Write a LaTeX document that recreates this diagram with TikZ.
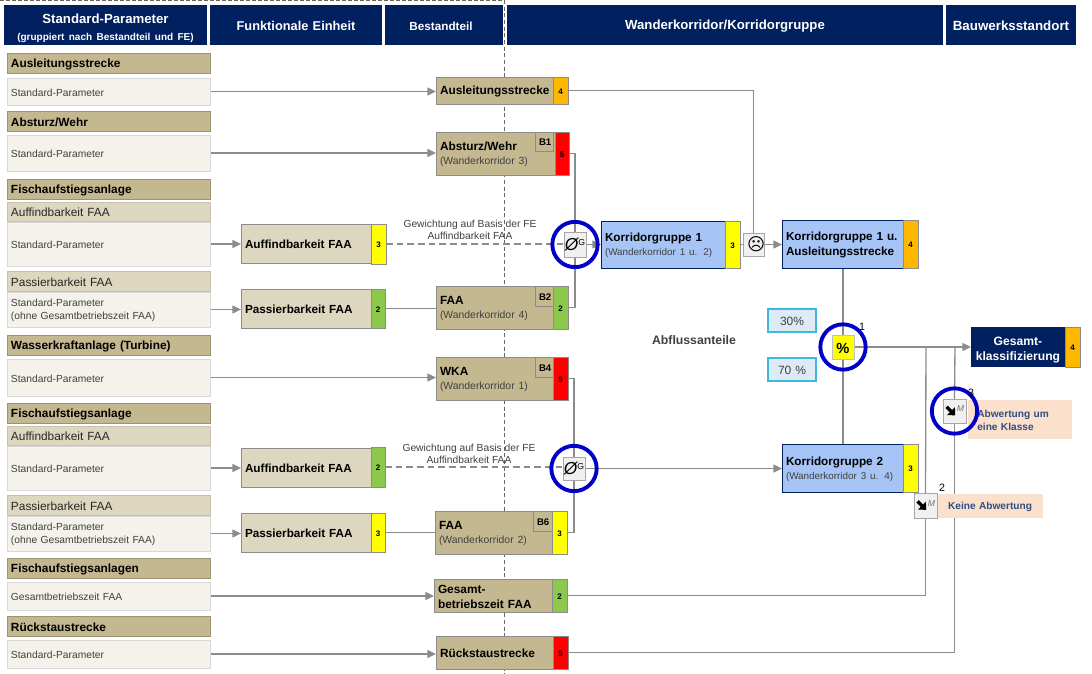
\documentclass[tikz,border=0pt]{standalone}
\usepackage{fontspec}
\setmainfont{Liberation Sans}
\newfontfamily\djv{DejaVu Sans}
\usetikzlibrary{arrows.meta,backgrounds}
\definecolor{navy}{HTML}{00205F}
\definecolor{tanD}{HTML}{C4B890}
\definecolor{tanM}{HTML}{DDD7C0}
\definecolor{tanL}{HTML}{F4F2EA}
\definecolor{blueK}{HTML}{A6C4F5}
\definecolor{rY}{HTML}{FFFF00}
\definecolor{rO}{HTML}{FFB800}
\definecolor{rR}{HTML}{FF0000}
\definecolor{rG}{HTML}{8CC84B}
\definecolor{peach}{HTML}{FBE0CB}
\definecolor{pale}{HTML}{DDEBF7}
\definecolor{cy}{HTML}{3FB8E0}
\definecolor{conn}{HTML}{8C8C8C}
\definecolor{ring}{HTML}{0000C8}
\definecolor{txt}{HTML}{404040}
\definecolor{notet}{HTML}{2F4F85}
\newcommand\fs[1]{\fontsize{#1}{\dimexpr #1pt*12/10\relax}\selectfont\dp\strutbox=0.6pt\relax}
\newcommand\bx[7][]{%
  \pgfmathsetmacro\cxx{(#3+#5)/2}\pgfmathsetmacro\cyy{(#4+#6)/2}%
  \pgfmathsetmacro\www{(#5-#3)*0.75}\pgfmathsetmacro\hhh{(#6-#4)*0.75}%
  \pgfmathsetmacro\ttt{(#5-#3-8)*0.75}%
  \node[#1,minimum width=\www pt,minimum height=\hhh pt,text width=\ttt pt] (#2) at (\cxx,\cyy) {\rule{0pt}{\dimexpr\ht\strutbox+0.6pt\relax}#7};}
\tikzset{
  x=0.75pt,y=-0.75pt,
  base/.style={inner xsep=3pt,inner ysep=0pt,outer sep=0pt,align=left},
  head/.style={base,fill=navy,text=white,align=center,font=\bfseries\fs{9.9}},
  grp/.style={base,fill=tanD,draw=tanD!80!black,line width=0.6pt,font=\bfseries\fs{8.9}},
  sub/.style={base,fill=tanM,draw=tanM!90!black,line width=0.4pt,font=\fs{8.9},text=black!85},
  std/.style={base,fill=tanL,draw=black!15,line width=0.4pt,font=\fs{7.7},text=txt},
  main/.style={base,fill=tanD,draw=black!45,line width=0.7pt,font=\bfseries\fs{8.9}},
  fe/.style={base,fill=tanM,draw=black!45,line width=0.7pt,font=\bfseries\fs{8.8}},
  kor/.style={base,fill=blueK,draw=navy,line width=0.7pt,font=\bfseries\fs{8.8}},
  rate/.style={base,inner xsep=0pt,draw=black!45,line width=0.7pt,align=center,font=\bfseries\fs{6}},
  tagb/.style={base,inner xsep=0pt,fill=tanD,draw=black!45,line width=0.5pt,align=center,font=\bfseries\fs{7.2}},
  opb/.style={base,inner xsep=0pt,fill=black!6,draw=black!35,line width=0.6pt,align=center},
  ringc/.style={circle,draw=ring,line width=2.9pt,minimum size=34pt,inner sep=0pt,outer sep=0pt},
  pct/.style={base,inner xsep=0pt,fill=pale,draw=cy,line width=0.9pt,align=center,font=\fs{9},text=txt},
  note/.style={base,fill=peach,font=\bfseries\fs{7.6},text=notet},
  lbl/.style={inner sep=0pt,align=center,font=\fs{7.7},text=txt},
  num/.style={inner sep=0pt,font=\fs{8}},
  conline/.style={draw=conn,line width=1pt},
  arr/.style={conline,-{Triangle[length=6.5pt,width=6pt,fill=conn]}},
  dsh/.style={conline,dash pattern=on 5pt off 3pt},
}
\newcommand\wk[1]{\\{\normalfont\fs{7.8}\color{txt}#1}}
\newcommand\wkk[1]{\\{\normalfont\fs{7.4}\color{txt}#1}}
\newcommand\avg{\makebox[\linewidth][c]{{\fs{13}\itshape Ø}\raisebox{3.5pt}{\fs{6.5}G}}}
\newcommand\downarr{\tikz[baseline=-0.6ex,x=1pt,y=1pt]\draw[line width=2.5pt,-{Triangle[length=4.5pt,width=8pt]}] (0,4.5) -- (6.5,-2);}
\newcommand\dn{\makebox[\linewidth][c]{\downarr\raisebox{4pt}{\fs{6.5}\itshape\color{black!55}M}}}
\begin{document}
\begin{tikzpicture}
\useasboundingbox (0,0) rectangle (1092,674);
% headers
\bx[head]{h1}{4}{5}{207}{45}{\rule{0pt}{11.5pt}Standard-Parameter\\[1pt]{\fs{7.5}(gruppiert nach Bestandteil und FE)}}
\bx[head,font=\bfseries\fs{9.6}]{h2}{210}{5}{382}{45}{Funktionale Einheit}
\bx[head,font=\bfseries\fs{8.8}]{h3}{385}{5}{503}{45}{Bestandteil\hspace*{4.5pt}}
\bx[head]{h4}{507}{5}{943}{45}{Wanderkorridor/Korridorgruppe}
\bx[head,font=\bfseries\fs{10}]{h5}{946}{5}{1076}{45}{Bauwerksstandort}
% left column
\bx[grp]{g1}{7}{53}{210}{73}{Ausleitungsstrecke}
\bx[std]{s1}{7}{78}{210}{105}{Standard-Parameter}
\bx[grp]{g2}{7}{111}{210}{131}{Absturz/Wehr}
\bx[std]{s2}{7}{135}{210}{171}{Standard-Parameter}
\bx[grp]{g3}{7}{179}{210}{199}{Fischaufstiegsanlage}
\bx[sub]{u3}{7}{202}{210}{221}{Auffindbarkeit FAA}
\bx[std]{s3}{7}{222}{210}{266}{Standard-Parameter}
\bx[sub]{u4}{7}{271}{210}{291}{Passierbarkeit FAA}
\bx[std]{s4}{7}{292}{210}{327}{Standard-Parameter\\[0.7pt](ohne Gesamtbetriebszeit FAA)}
\bx[grp]{g5}{7}{335}{210}{355}{Wasserkraftanlage (Turbine)}
\bx[std]{s5}{7}{359}{210}{396}{Standard-Parameter}
\bx[grp]{g6}{7}{403}{210}{423}{Fischaufstiegsanlage}
\bx[sub]{u6}{7}{426}{210}{445}{Auffindbarkeit FAA}
\bx[std]{s6}{7}{446}{210}{490}{Standard-Parameter}
\bx[sub]{u7}{7}{495}{210}{515}{Passierbarkeit FAA}
\bx[std]{s7}{7}{516}{210}{551}{Standard-Parameter\\[0.7pt](ohne Gesamtbetriebszeit FAA)}
\bx[grp]{g8}{7}{558}{210}{578}{Fischaufstiegsanlagen}
\bx[std]{s8}{7}{582}{210}{610}{Gesamtbetriebszeit FAA}
\bx[grp]{g9}{7}{616}{210}{636}{Rückstaustrecke}
\bx[std]{s9}{7}{640}{210}{668}{Standard-Parameter}
% functional units
\bx[fe]{f3}{241}{224}{371}{263}{Auffindbarkeit FAA}
\bx[rate,fill=rY]{fr3}{371}{224}{386}{264}{3}
\bx[fe]{f4}{241}{289}{371}{328}{Passierbarkeit FAA}
\bx[rate,fill=rG]{fr4}{371}{289}{385}{328}{2}
\bx[fe]{f6}{241}{448}{371}{487}{Auffindbarkeit FAA}
\bx[rate,fill=rG]{fr6}{371}{447}{385}{487}{2}
\bx[fe]{f7}{241}{513}{371}{552}{Passierbarkeit FAA}
\bx[rate,fill=rY]{fr7}{371}{513}{385}{552}{3}
% components
\bx[main]{m1}{436}{77}{553}{104}{Ausleitungsstrecke}
\bx[rate,fill=rO]{r1}{553}{77}{568}{104}{4}
\bx[main]{m2}{436}{132}{555}{175}{Absturz/Wehr\wk{(Wanderkorridor 3)}}
\bx[rate,fill=rR]{r2}{555}{132}{569}{175}{5}
\bx[tagb]{t2}{535}{132}{553}{151}{B1}
\bx[main]{m4}{436}{286}{553}{329}{FAA\wk{(Wanderkorridor 4)}}
\bx[rate,fill=rG]{r4}{553}{286}{568}{329}{2}
\bx[tagb]{t4}{535}{286}{553}{306}{B2}
\bx[main]{m5}{436}{357}{553}{400}{WKA\wk{(Wanderkorridor 1)}}
\bx[rate,fill=rR]{r5}{553}{357}{568}{400}{5}
\bx[tagb]{t5}{535}{357}{553}{377}{B4}
\bx[main]{m7}{435}{511}{552}{554}{FAA\wk{(Wanderkorridor 2)}}
\bx[rate,fill=rY]{r7}{552}{511}{567}{554}{3}
\bx[tagb]{t7}{533}{511}{552}{531}{B6}
\bx[main]{m8}{434}{579}{552}{612}{Gesamt-\\[0.5pt]betriebszeit FAA}
\bx[rate,fill=rG]{r8}{552}{579}{567}{612}{2}
\bx[main]{m9}{436}{636}{553}{669}{Rückstaustrecke}
\bx[rate,fill=rR]{r9}{553}{636}{568}{669}{5}
% corridor groups
\bx[kor]{k1}{601}{221}{725}{268}{Korridorgruppe 1\wkk{(Wanderkorridor 1 u. 2)}}
\bx[rate,fill=rY]{kr1}{725}{221}{740}{268}{3}
\bx[kor]{k12}{782}{220}{903}{268}{Korridorgruppe 1 u.\\[1pt]Ausleitungsstrecke}
\bx[rate,fill=rO]{kr12}{903}{220}{918}{268}{4}
\bx[kor]{k2}{782}{444}{903}{492}{Korridorgruppe 2\wkk{(Wanderkorridor 3 u. 4)}}
\bx[rate,fill=rY]{kr2}{903}{444}{918}{492}{3}
\bx[head,font=\bfseries\fs{9.1}]{gk}{971}{327}{1065}{367}{\rule{0pt}{10.5pt}Gesamt-\\[0.5pt]klassifizierung}
\bx[rate,fill=rO]{gkr}{1065}{327}{1080}{367}{4}
% operators
\bx[opb]{o1}{564}{232}{586}{257}{\avg}
\bx[opb]{o2}{563}{457}{585}{480}{\avg}
\bx[opb]{sm}{743}{233}{764}{256}{{\djv\fs{13}☹}}
\bx[opb,fill=rY,draw=black!25,font=\bfseries\fs{11}]{pc}{832}{335}{854}{359}{\%}
\bx[note]{n3}{968}{400}{1072}{439}{\hspace*{4pt}Abwertung um\\[1pt]\hspace*{4pt}eine Klasse}
\bx[note,align=center]{n2}{937}{494}{1043}{518}{Keine Abwertung}
\bx[opb]{mm3}{943}{399}{966}{423}{\dn}
\bx[opb]{mm2}{914}{493}{937}{518}{\dn}
\node[ringc] (c1) at (o1) {};
\node[ringc] (c2) at (o2) {};
\node[ringc] (c3) at (pc) {};
\node[ringc] (c4) at (mm3) {};
% percent boxes
\bx[pct]{p30}{768}{309}{816}{332}{30\%}
\bx[pct]{p70}{768}{358}{816}{381}{70 \%}
% labels
\node[lbl] (w1) at (470,230) {Gewichtung auf Basis der FE\\Auffindbarkeit FAA};
\node[lbl] (w2) at (469,454) {Gewichtung auf Basis der FE\\Auffindbarkeit FAA};
\node[inner sep=0pt,font=\bfseries\fs{9.2},text=txt] (ab) at (694,340) {Abflussanteile};
\node[num] (l1) at (862,327) {1};
\node[num] (l2) at (942,488) {2};
\node[num] (l3) at (971,393) {3};
% connectors and spine
\begin{scope}[on background layer]
\coordinate (dtop) at (504.5,0);
\coordinate (dbot) at (504.5,674);
\coordinate (dleft) at (0,0.7);
\coordinate (dtopr) at (504.5,0.7);
\coordinate (d6) at (o2.west |- fr6.east);
\draw[black!60,line width=0.7pt,dash pattern=on 3pt off 2pt] (dtop) -- (dbot);
\draw[black!60,line width=0.7pt,dash pattern=on 3pt off 1.5pt] (dleft) -- (dtopr);
\draw[arr] (s1.east) -- (s1.east -| m1.west);
\draw[arr] (s2.east) -- (s2.east -| m2.west);
\draw[arr] (s3.east) -- (s3.east -| f3.west);
\draw[arr] (s4.east) -- (s4.east -| f4.west);
\draw[arr] (s5.east) -- (s5.east -| m5.west);
\draw[arr] (s6.east) -- (s6.east -| f6.west);
\draw[arr] (s7.east) -- (s7.east -| f7.west);
\draw[arr] (s8.east) -- (s8.east -| m8.west);
\draw[arr] (s9.east) -- (s9.east -| m9.west);
\draw[conline] (fr4.east) -- (fr4.east -| m4.west);
\draw[conline] (fr7.east) -- (fr7.east -| m7.west);
\draw[dsh] (fr3.east) -- (fr3.east -| o1.west);
\draw[dsh] (fr6.east) -- (d6);
\draw[conline] (r2.east) -| (o1.north);
\draw[conline] (r4.east) -| (o1.south);
\draw[conline] (r5.east) -| (o2.north);
\draw[conline] (r7.east) -| (o2.south);
\draw[arr] (o1.east) -- (k1.west);
\draw[arr] (o2.east) -- (o2.east -| k2.west);
\draw[conline] (r1.east) -| (sm.north);
\draw[conline] (kr1.east) -- (sm.west);
\draw[arr] (sm.east) -- (sm.east -| k12.west);
\draw[conline] (k12.south -| pc.north) -- (pc.north);
\draw[conline] (k2.north -| pc.south) -- (pc.south);
\draw[arr] (pc.east) -- (pc.east -| gk.west);
\coordinate (j1) at (926,347);
\coordinate (j2) at (955,347);
\draw[conline] (r8.east) -| (mm2.south);
\draw[conline] (mm2.north) -- (j1);
\draw[conline] (r9.east) -| (mm3.south);
\draw[conline] (mm3.north) -- (j2);
\end{scope}
\end{tikzpicture}
\end{document}
